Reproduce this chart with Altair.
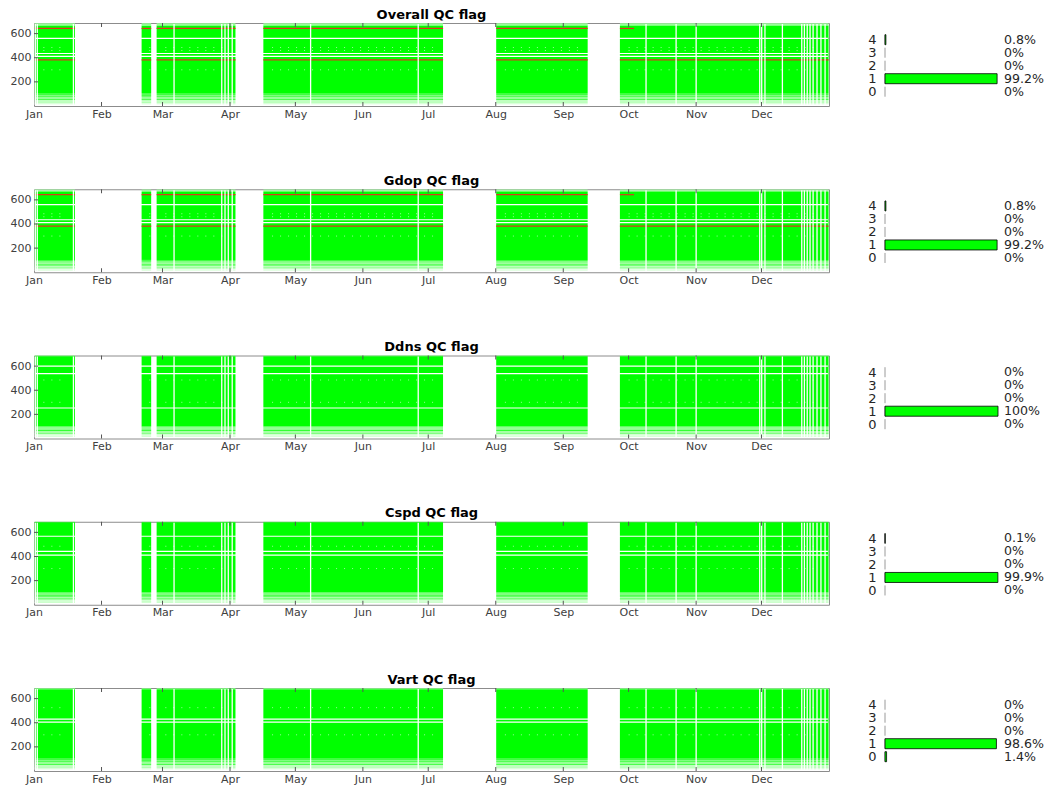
import altair as alt
import pandas as pd

panel_titles = ["Overall QC flag", "Gdop QC flag", "Ddns QC flag", "Cspd QC flag", "Vart QC flag"]
month_names = ["Jan", "Feb", "Mar", "Apr", "May", "Jun", "Jul", "Aug", "Sep", "Oct", "Nov", "Dec"]
month_starts = [0, 31, 59, 90, 120, 151, 181, 212, 243, 273, 304, 334]
y_ticks = [200, 400, 600]

# time segments with data (day of year)
seg_start = [0.3, 49.4, 56.3, 105.3, 212.2, 269.0]
seg_end = [18.8, 53.8, 92.5, 187.8, 254.2, 364.8]

# thin vertical gaps inside the data (day of year)
white_days = [0.6, 1.5, 18.1, 64.3, 86.2, 87.7, 89.2, 91.0, 127.0, 176.4,
              281.0, 294.8, 304.0, 333.2, 334.1, 335.6, 343.6, 352.5, 353.7,
              355.0, 356.3, 357.7, 359.5, 361.3, 363.2]

# range cells
dense_bottom = 102
dense_top = [665, 665, 682, 684, 678]
bottom_lo = [94, 84, 74, 62, 50, 38, 26, 14]
bottom_hi = [100, 90, 80, 70, 58, 46, 34, 22]
bottom_col = ["#00ff00", "#00ff00", "#1aff1a", "#33ff33", "#4dff4d", "#80ff80", "#a6ffa6", "#ccffcc"]
top_lo = [[668, 679], [668, 679], [684], [686], [681]]
top_hi = [[676, 686], [676, 686], [687], [688], [687]]
top_col = [["#33ff33", "#99ff99"], ["#33ff33", "#99ff99"], ["#80ff80"], ["#80ff80"], ["#80ff80"]]

white_rows = [[560, 435, 412], [560, 435, 412], [600, 537, 253], [568, 443, 412], [430, 405]]
dotted_rows = [[485, 460, 300], [485, 460, 300], [485, 300], [485, 300], [525, 300]]

# flag-4 lines (range cell, last day)
red_rows = [[643, 382], [643, 382], [], [], []]
red_last_day = [[275.5, 365], [275.5, 365], [], [], []]

flags = [0, 1, 2, 3, 4]
percent = [
    [0, 99.2, 0, 0, 0.8],
    [0, 99.2, 0, 0, 0.8],
    [0, 100, 0, 0, 0],
    [0, 99.9, 0, 0, 0.1],
    [1.4, 98.6, 0, 0, 0],
]

FONT = "DejaVu Sans"
W, H = 795, 83
BW = 113

xsc = alt.Scale(domain=[0, 365], nice=False, zero=False)
ysc = alt.Scale(domain=[0, 688], nice=False, zero=False)

label_expr = "[" + ",".join("'%s'" % m for m in month_names) + "][indexof([" + \
    ",".join(str(d) for d in month_starts) + "], datum.value)]"


def heat(i):
    rects = []
    for s, e in zip(seg_start, seg_end):
        rects.append(dict(x0=s, x1=e, y0=dense_bottom, y1=dense_top[i], c="#00ff00"))
        for lo, hi, c in zip(bottom_lo, bottom_hi, bottom_col):
            rects.append(dict(x0=s, x1=e, y0=lo, y1=hi, c=c))
        for lo, hi, c in zip(top_lo[i], top_hi[i], top_col[i]):
            rects.append(dict(x0=s, x1=e, y0=lo, y1=hi, c=c))
    df = pd.DataFrame(rects)

    base = alt.Chart(df).mark_rect().encode(
        x=alt.X("x0:Q", scale=xsc, axis=alt.Axis(
            values=month_starts, labelExpr=label_expr, title=None, tickSize=0,
            domain=False, grid=False, labelPadding=2, labelFontSize=11,
            labelColor="#404040", labelFont=FONT, labelFlush=False, labelOverlap=False)),
        x2="x1:Q",
        y=alt.Y("y0:Q", scale=ysc, axis=alt.Axis(
            values=y_ticks, title=None, tickSize=0, domain=False, grid=False,
            labelPadding=3, labelFontSize=11, labelColor="#404040", labelFont=FONT,
            labelFlush=False, labelOverlap=False)),
        y2="y1:Q",
        color=alt.Color("c:N", scale=None),
    )
    layers = [base]

    dots = []
    for r in dotted_rows[i]:
        for s, e in zip(seg_start, seg_end):
            dots.append(dict(x0=s + 4, x1=e - 4, y=r))
    layers.append(alt.Chart(pd.DataFrame(dots))
                  .mark_rule(color="white", strokeWidth=1, strokeDash=[1, 7], opacity=0.6)
                  .encode(x="x0:Q", x2="x1:Q", y="y:Q"))

    red = []
    for r, last in zip(red_rows[i], red_last_day[i]):
        for s, e in zip(seg_start, seg_end):
            if s < last:
                red.append(dict(x0=s, x1=min(e, last), y0=r - 5, y1=r + 5))
    if red:
        layers.append(alt.Chart(pd.DataFrame(red)).mark_rect(color="#d9381e").encode(
            x="x0:Q", x2="x1:Q", y="y0:Q", y2="y1:Q"))

    layers.append(alt.Chart(pd.DataFrame({"y": white_rows[i], "x0": 0.5, "x1": 364.5}))
                  .mark_rule(color="white", strokeWidth=1.2)
                  .encode(y="y:Q", x="x0:Q", x2="x1:Q"))
    layers.append(alt.Chart(pd.DataFrame({"d": white_days}))
                  .mark_rule(color="white", strokeWidth=1.3)
                  .encode(x="d:Q", y=alt.value(1), y2=alt.value(H - 1)))

    ticks = pd.DataFrame({"d": month_starts[1:]})
    layers.append(alt.Chart(ticks).mark_rule(color="#555555", strokeWidth=1)
                  .encode(x="d:Q", y=alt.value(0), y2=alt.value(4)))
    layers.append(alt.Chart(ticks).mark_rule(color="#555555", strokeWidth=1)
                  .encode(x="d:Q", y=alt.value(H), y2=alt.value(H - 4)))
    yt = pd.DataFrame({"v": y_ticks})
    layers.append(alt.Chart(yt).mark_rule(color="#555555", strokeWidth=1)
                  .encode(y="v:Q", x=alt.value(0), x2=alt.value(4)))

    return alt.layer(*layers).properties(
        width=W, height=H,
        title=alt.TitleParams(text=panel_titles[i], fontSize=13, fontWeight="bold",
                              font=FONT, offset=1, color="black"),
        view=alt.ViewBackground(stroke="#8c8c8c", strokeWidth=1),
    )


def bars(i):
    df = pd.DataFrame({
        "flag": flags,
        "pct": percent[i],
        "label": ["%g%%" % p for p in percent[i]],
    })
    ysc_b = alt.Scale(domain=[-1.1, 5.285], nice=False, zero=False)
    axis_b = alt.Axis(values=flags, format="d", title=None, tickSize=0, domain=False,
                      grid=False, labelPadding=9, labelFontSize=13, labelColor="#262626",
                      labelFont=FONT, labelOverlap=False, labelFlush=False)
    base = alt.Chart(df).transform_calculate(
        ylo="datum.flag - 0.385", yhi="datum.flag + 0.385", x0="0")
    zero = base.mark_rule(color="#9a9a9a", strokeWidth=1).encode(
        x=alt.value(0),
        y=alt.Y("ylo:Q", scale=ysc_b, axis=axis_b, title=None),
        y2="yhi:Q",
    )
    bar = base.transform_filter("datum.pct > 0").mark_rect(
        fill="#00ff00", stroke="black", strokeWidth=0.8).encode(
        x=alt.X("x0:Q", scale=alt.Scale(domain=[0, 100], nice=False, zero=False), axis=None),
        x2="pct:Q",
        y=alt.Y("ylo:Q", scale=ysc_b, axis=axis_b, title=None),
        y2="yhi:Q",
    )
    txt = base.mark_text(align="left", baseline="middle", fontSize=12.6, font=FONT,
                         color="#262626").encode(
        x=alt.value(BW + 6),
        y=alt.Y("flag:Q", scale=ysc_b, axis=axis_b, title=None),
        text="label:N")
    return alt.layer(zero, bar, txt).properties(width=BW, height=H)


cells = []
for i in range(5):
    cells.append(heat(i))
    cells.append(bars(i))

chart = alt.concat(
    *cells, columns=2, spacing={"row": 83.25, "column": 56}, bounds="flush", align="each"
).properties(
    padding={"left": 1, "top": 0, "right": 0, "bottom": 0}
).configure_view(stroke="transparent")

chart.save("out.html", embed_options={"renderer": "svg", "actions": False})
